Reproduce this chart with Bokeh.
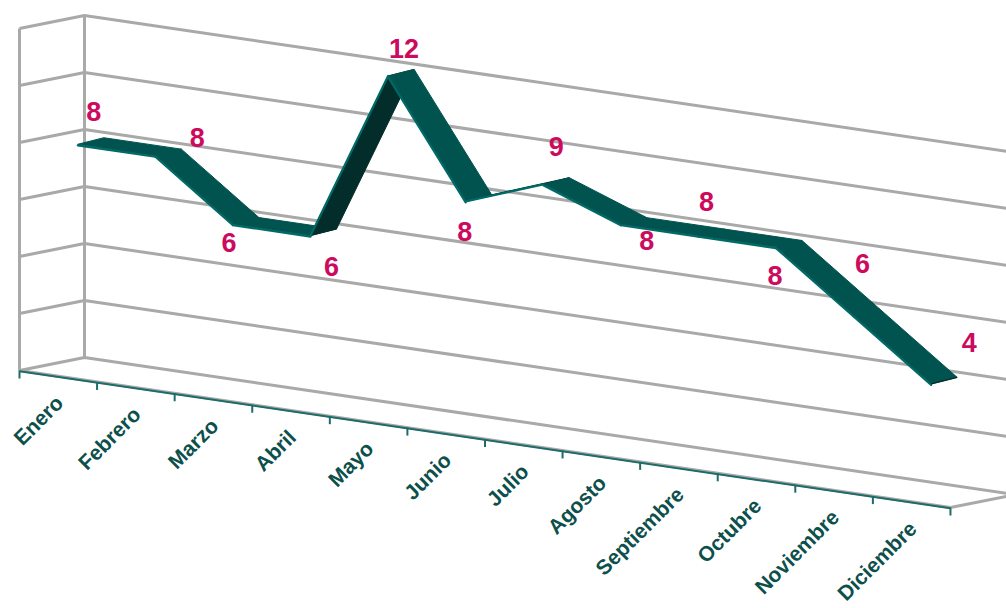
from bokeh.core.properties import value
from bokeh.embed import file_html
from bokeh.models import Range1d
from bokeh.plotting import figure
from bokeh.resources import INLINE
import math

months = ["Enero", "Febrero", "Marzo", "Abril", "Mayo", "Junio", "Julio",
          "Agosto", "Septiembre", "Octubre", "Noviembre", "Diciembre"]
counts = [8, 8, 6, 6, 12, 8, 9, 8, 8, 8, 6, 4]
wall_ticks = [0, 2, 4, 6, 8, 10, 12]

# Pixel offsets of each count label from its point on the ribbon
label_dx = [16, 42, -4, 21, 16, -1, 13, 26, 8, -1, 9, 38]
label_dy = [-33, -18, 18, 31, -27, 30, -38, 16, -34, 28, -52, -41]

# Oblique projection of the 3D plot box
ORIGIN_X, ORIGIN_Y = 19.0, 370.0
STEP_X, STEP_Y = 77.58, 11.42
UNIT_Y = 28.5
DEPTH_X, DEPTH_Y = 65.0, -13.0
RIBBON_FRONT, RIBBON_BACK = 0.3, 0.7
RIBBON_LIFT = -1.4

GRID = "#a9a9a9"
TOP = "#01534f"
UNDER = "#032d2b"
EDGE = "#006a66"
AXIS = "#1d6c69"
PINK = "#cc0a5e"
TEXT = "#0d4f4b"


def sx(pos, depth=0.0):
    return ORIGIN_X + pos * STEP_X + depth * DEPTH_X


def sy(pos, v, depth=0.0):
    return ORIGIN_Y + pos * STEP_Y - v * UNIT_Y + depth * DEPTH_Y


n = len(months)
p = figure(width=1006, height=608, output_backend="svg", toolbar_location=None,
           x_range=Range1d(0, 1006), y_range=Range1d(608, 0),
           min_border=0, outline_line_color=None)
p.axis.visible = False
p.grid.visible = False

# Walls and floor of the box
wall = dict(line_color=GRID, line_width=3)
for t in wall_ticks:
    p.line([sx(0), sx(0, 1), sx(n, 1)], [sy(0, t), sy(0, t, 1), sy(n, t, 1)], **wall)
top_v = wall_ticks[-1]
p.line([sx(0), sx(0)], [sy(0, 0), sy(0, top_v)], **wall)
p.line([sx(0, 1), sx(0, 1)], [sy(0, 0, 1), sy(0, top_v, 1)], **wall)
p.line([sx(n), sx(n, 1)], [sy(n, 0), sy(n, 0, 1)], **wall)

# Category axis along the front of the floor
p.line([sx(0), sx(n)], [sy(0, 0), sy(n, 0)], line_color=GRID, line_width=3)
p.line([sx(0), sx(n)], [sy(0, 0) + 0.8, sy(n, 0) + 0.8], line_color=AXIS, line_width=2)
for i in range(n + 1):
    p.line([sx(i), sx(i)], [sy(i, 0), sy(i, 0) + 8], line_color=AXIS, line_width=2)

# Ribbon: one top quad and one front edge per month-to-month segment
centers = [i + 0.5 for i in range(n)]
for i in range(n - 1):
    a, b = centers[i], centers[i + 1]
    va, vb = counts[i], counts[i + 1]
    fx = [sx(a, RIBBON_FRONT), sx(b, RIBBON_FRONT)]
    fy = [sy(a, va, RIBBON_FRONT), sy(b, vb, RIBBON_FRONT)]
    bx = [sx(a, RIBBON_BACK), sx(b, RIBBON_BACK)]
    by = [sy(a, va, RIBBON_BACK) + RIBBON_LIFT, sy(b, vb, RIBBON_BACK) + RIBBON_LIFT]
    rising = vb > va
    p.patch(fx + bx[::-1], fy + by[::-1], fill_color=UNDER if rising else TOP,
            line_color=UNDER if rising else TOP, line_width=1)
    shift = 0.0 if rising else 1.0
    p.line(fx, [y + shift for y in fy], line_color=EDGE, line_width=2.2,
           line_cap="round")

# Dark cut end of the ribbon
p.line([sx(centers[-1], RIBBON_FRONT), sx(centers[-1], RIBBON_BACK)],
       [sy(centers[-1], counts[-1], RIBBON_FRONT),
        sy(centers[-1], counts[-1], RIBBON_BACK) + RIBBON_LIFT],
       line_color=UNDER, line_width=1.4)

# Count labels
p.text([sx(c, RIBBON_FRONT) + dx for c, dx in zip(centers, label_dx)],
       [sy(c, v, RIBBON_FRONT) + dy for c, v, dy in zip(centers, counts, label_dy)],
       text=[str(v) for v in counts],
       text_font=value("Liberation Sans"), text_font_style="bold",
       text_font_size="27px", text_color=PINK,
       text_align="center", text_baseline="middle")

# Month labels, rotated under the axis
p.text([sx(c) + 1 for c in centers], [sy(c, 0) + 23 for c in centers],
       text=months, angle=math.radians(45),
       text_font=value("Liberation Sans"), text_font_style="bold",
       text_font_size="21px", text_color=TEXT,
       text_align="right", text_baseline="middle")

open("out.html", "w").write(file_html(p, INLINE))
